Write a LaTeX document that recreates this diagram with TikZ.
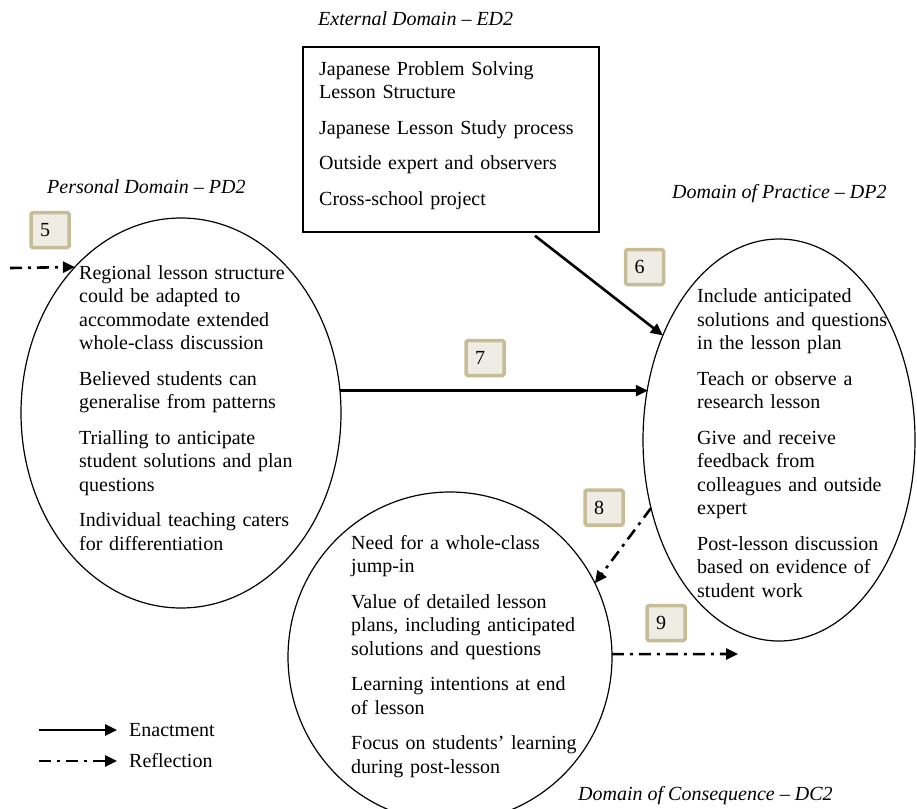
\documentclass[tikz,border=0pt]{standalone}
\usepackage{fontspec}
\setmainfont{Liberation Serif}
\usetikzlibrary{arrows.meta,shapes.geometric}
\definecolor{numedge}{HTML}{C6BC95}
\definecolor{numfill}{HTML}{EEECE3}

\begin{document}
\begin{tikzpicture}[x=1pt,y=-1pt,
  every node/.style={font=\fontsize{20}{23.5}\selectfont},
  domainoval/.style={draw, ellipse, line width=1.2pt, inner sep=0pt, outer sep=0pt},
  items/.style={anchor=base west, inner sep=0pt, text width=290pt, align=left},
  domlabel/.style={anchor=base west, inner sep=0pt, font=\fontsize{20}{23.5}\selectfont\itshape},
  numbox/.style={draw=numedge, fill=numfill, line width=3.5pt, rounded corners=1.5pt,
    minimum width=38pt, minimum height=35pt, text width=20pt, align=left, inner sep=0pt},
  enact/.style={line width=2.6pt, -{Triangle[length=12pt,width=11pt]}},
  reflect/.style={enact, dash pattern=on 12pt off 6pt on 3pt off 6pt}]
\useasboundingbox (0,0) rectangle (917,808);

% the four domains
\node[draw, line width=1.5pt, minimum width=296pt, minimum height=185pt, inner sep=0pt] (ed) at (451,139.5) {};
\node[domainoval, minimum width=320pt, minimum height=390pt] (pd) at (181,413) {};
\node[domainoval, minimum width=272pt, minimum height=402pt] (dp) at (779,440) {};
\node[domainoval, minimum width=324pt, minimum height=330pt] (dc) at (450,657) {};

\node[domlabel] (edlabel) at (318,25.5) {External Domain – ED2};
\node[domlabel] (pdlabel) at (47,193) {Personal Domain – PD2};
\node[domlabel] (dplabel) at (672,198.5) {Domain of Practice – DP2};
\node[domlabel] (dclabel) at (578,800) {Domain of Consequence – DC2};

\node[items] (edtext) at (319,75) {Japanese Problem Solving\\Lesson Structure\\[12pt]
  Japanese Lesson Study process\\[12pt]Outside expert and observers\\[12pt]Cross-school project};
\node[items] (pdtext) at (79,279) {Regional lesson structure\\could be adapted to\\accommodate extended\\whole-class discussion\\[12pt]
  Believed students can\\generalise from patterns\\[12pt]
  Trialling to anticipate\\student solutions and plan\\questions\\[12pt]
  Individual teaching caters\\for differentiation};
\node[items] (dptext) at (697,302.5) {Include anticipated\\solutions and questions\\in the lesson plan\\[12pt]
  Teach or observe a\\research lesson\\[12pt]
  Give and receive\\feedback from\\colleagues and outside\\expert\\[12pt]
  Post-lesson discussion\\based on evidence of\\student work};
\node[items] (dctext) at (351,549) {Need for a whole-class\\jump-in\\[12pt]
  Value of detailed lesson\\plans, including anticipated\\solutions and questions\\[12pt]
  Learning intentions at end\\of lesson\\[12pt]
  Focus on students’ learning\\during post-lesson};

% numbered links
\node[numbox] (n5) at (50,230) {5};
\node[numbox] (n6) at (644.5,267) {6};
\node[numbox] (n7) at (485,358) {7};
\node[numbox] (n8) at (604,507.5) {8};
\node[numbox] (n9) at (666,623) {9};

\coordinate (in5) at (10,268);
\coordinate (out9) at (738,654);
\draw[reflect] (in5) -- (pd.126.4);
\draw[enact] ([xshift=84pt,yshift=-3pt]ed.south) -- (dp.138.9);
\draw[enact] (pd.8.95) -- (pd.8.95 -| dp.158.4);
\draw[reflect] (dp.208.4) -- (dc.27);
\draw[reflect] (dc.1) -- (out9);

% legend
\coordinate (enA) at (39,730);
\coordinate (enB) at (117,730);
\coordinate (reA) at (39,761);
\coordinate (reB) at (117,761);
\draw[enact] (enA) -- (enB);
\draw[reflect] (reA) -- (reB);
\node[anchor=base west, inner sep=0pt] (entext) at (129,736.5) {Enactment};
\node[anchor=base west, inner sep=0pt] (retext) at (129,767.5) {Reflection};
\end{tikzpicture}
\end{document}
